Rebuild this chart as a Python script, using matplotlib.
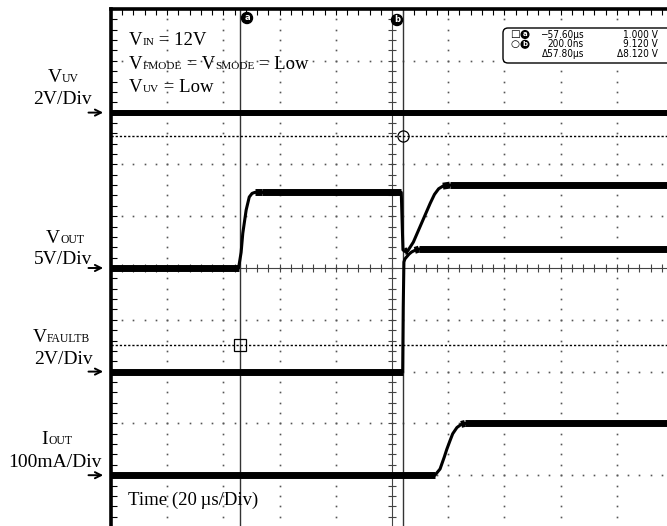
import numpy as np
import matplotlib
matplotlib.use('Agg')
import matplotlib.pyplot as plt
from matplotlib.offsetbox import TextArea, HPacker, AnnotationBbox
from matplotlib.patches import FancyBboxPatch

# time in us (0 = trigger point), values in channel units
t_vuv = [-104, 97]
vuv = [0, 0]                       # V

t_vout = [-104, -58.2, -57.3, -56.7, -55.5, -54.4, -53.4, -52.4, -50.0, -0.3, 0.0, 0.3,
          1.0, 2.0, 4.0, 6.0, 8.0, 10.0, 11.5, 13.0, 14.5, 17.0, 97]
vout = [0, 0, 1.5, 3.35, 5.6, 6.85, 7.2, 7.3, 7.3, 7.3, 4.5, 1.75,
        1.6, 1.65, 2.5, 3.75, 5.0, 6.25, 7.1, 7.65, 7.9, 8.0, 8.0]     # V

t_fault = [-104, 0.2, 0.4, 0.64, 1.0, 1.7, 2.5, 3.4, 4.5, 6.0, 97]
vfault = [0, 0, 2.5, 4.23, 4.35, 4.44, 4.54, 4.62, 4.68, 4.73, 4.73]  # V

t_iout = [-104, 11.7, 13.5, 15.0, 15.9, 17.0, 18.0, 19.5, 21.0, 22.4, 97]
iout = [0, 0, 12, 35, 50, 66, 80, 92, 98, 100, 100]                  # mA

# channel: (scale per div, ground position in div)
ch_vuv = (2, 3)
ch_vout = (5, 0)
ch_fault = (2, -2)
ch_iout = (100, -4)

t_center = -3.6        # us at screen centre
us_div = 20
cursor_t = [-57.6, 0.2]
cursor_lvl = [-1.49, 2.55]   # div

W, H = 667, 526
fig = plt.figure(figsize=(W / 100, H / 100), dpi=100)
ax = fig.add_axes([111 / W, -1 / H, 562 / W, 518 / H])
ax.set_xlim(t_center - 5 * us_div, t_center + 5 * us_div)
ax.set_ylim(-5, 5)
for s in ['right', 'bottom']:
    ax.spines[s].set_visible(False)
for s in ['top', 'left']:
    ax.spines[s].set_linewidth(2.6)

maj_x = t_center + us_div * np.arange(-5, 6)
min_x = t_center + us_div / 5 * np.arange(-25, 26)
maj_y = np.arange(-5, 6)
min_y = np.arange(-25, 26) / 5
ax.set_xticks(maj_x)
ax.set_xticks(min_x, minor=True)
ax.set_yticks(maj_y)
ax.set_yticks(min_y, minor=True)
ax.tick_params(which='both', direction='in', top=True, bottom=False, left=True, right=False,
               labelleft=False, labelbottom=False, length=4, width=0.8)

# dotted graticule
gx, gy = np.meshgrid(maj_x[1:-1][maj_x[1:-1] != t_center], min_y)
ax.plot(gx.ravel(), gy.ravel(), ls='none', marker='s', ms=1.2, mew=0, color='#555')
gx, gy = np.meshgrid(min_x, maj_y[1:-1][maj_y[1:-1] != 0])
ax.plot(gx.ravel(), gy.ravel(), ls='none', marker='s', ms=1.2, mew=0, color='#555')

# centre cross with ticks
ax.axvline(t_center, lw=0.8, color='#444')
ax.axhline(0, lw=0.8, color='#444')
ax.plot(min_x, np.zeros_like(min_x), ls='none', marker='|', ms=6, mew=0.8, color='#444')
ax.plot(np.full_like(min_y, t_center), min_y, ls='none', marker='_', ms=6, mew=0.8, color='#444')

# cursors
for ct in cursor_t:
    ax.axvline(ct, lw=1, color='#333')
for cl in cursor_lvl:
    ax.axhline(cl, lw=1, color='black', ls=(0, (1.6, 1.4)))
ax.plot(cursor_t[1], cursor_lvl[1], marker='o', ms=8, mfc='none', mec='black', mew=0.9)
ax.plot(cursor_t[0], cursor_lvl[0], marker='s', ms=8, mfc='none', mec='black', mew=0.9)


def trace(t, v, ch, lw_flat=5.0, lw_edge=2.2):
    t = np.asarray(t, float)
    d = ch[1] + np.asarray(v, float) / ch[0]
    ax.plot(t, d, color='black', lw=lw_edge, solid_joinstyle='round')
    slope = np.abs(np.diff(d) / np.diff(t))
    for i in np.flatnonzero(slope < 0.02):
        ax.plot(t[i:i + 2], d[i:i + 2], color='black', lw=lw_flat, solid_capstyle='butt')


trace(t_vuv, vuv, ch_vuv, lw_flat=4.3)
trace(t_vout, vout, ch_vout)
trace(t_fault, vfault, ch_fault)
trace(t_iout, iout, ch_iout)

# ground arrows
for ch in [ch_vuv, ch_vout, ch_fault, ch_iout]:
    ax.annotate('', xy=(-0.009, ch[1]), xycoords=('axes fraction', 'data'),
                xytext=(-0.045, ch[1]), textcoords=('axes fraction', 'data'),
                arrowprops=dict(arrowstyle='->', lw=1.4, color='black', mutation_scale=11),
                annotation_clip=False)

# overlay in pixel coordinates for text
ov = fig.add_axes([0, 0, 1, 1])
ov.set_xlim(0, W)
ov.set_ylim(H, 0)
ov.axis('off')

serif = ['Liberation Serif', 'DejaVu Serif']


def rich(x, y, parts, size, align=0.0, small=0.6):
    kids = []
    for txt, is_small in parts:
        kids.append(TextArea(txt, textprops=dict(fontsize=size * small if is_small else size,
                                                 family=serif, color='black')))
    box = HPacker(children=kids, align='baseline', pad=0, sep=0)
    ab = AnnotationBbox(box, (x, y), xycoords='data', box_alignment=(align, 0),
                        frameon=False, pad=0)
    ov.add_artist(ab)


# conditions
rich(129, 49, [('V', 0), ('IN', 1), (' = 12V', 0)], 13.5)
rich(129, 73, [('V', 0), ('FMODE', 1), (' = V', 0), ('SMODE', 1), (' = Low', 0)], 13.5)
rich(129, 96, [('V', 0), ('UV', 1), (' = Low', 0)], 13.5)

# channel labels
rich(63, 86, [('V', 0), ('UV', 1)], 14, align=0.5)
ov.text(62, 104, '2V/Div', fontsize=14, family=serif, ha='center', va='baseline')
rich(65, 247, [('V', 0), ('OUT', 1)], 14, align=0.5)
ov.text(63, 264, '5V/Div', fontsize=14, family=serif, ha='center', va='baseline')
rich(61, 346, [('V', 0), ('FAULTB', 1)], 14, align=0.5)
ov.text(63, 364, '2V/Div', fontsize=14, family=serif, ha='center', va='baseline')
rich(57, 448, [('I', 0), ('OUT', 1)], 14, align=0.5)
ov.text(55, 467, '100mA/Div', fontsize=14, family=serif, ha='center', va='baseline')

ov.text(128, 505, 'Time (20\u2009\u00b5s/Div)', fontsize=13.5, family=serif, va='baseline')


def circled(x, y, ch, size=6):
    ov.text(x, y, ch, fontsize=size, fontweight='bold', color='white', ha='center', va='center',
            family='DejaVu Sans',
            bbox=dict(boxstyle='circle,pad=0.12', fc='black', ec='black'))


circled(247, 18, 'a')
circled(397, 20, 'b')

# cursor readout
ov.add_patch(FancyBboxPatch((503, 28), 190, 35, boxstyle='round,pad=0,rounding_size=5',
                            fc='white', ec='black', lw=1, zorder=3))
narrow = ['Liberation Sans Narrow', 'DejaVu Sans']
rows = [('\u25a1', 'a', '\u221257.60\u00b5s', '1.000 V'),
        ('\u25cb', 'b', '200.0ns', '9.120 V'),
        (None, None, '\u039457.80\u00b5s', '\u03948.120 V')]
for i, (sym, c, tv, vv) in enumerate(rows):
    y = 34.5 + 9.8 * i
    if sym:
        ov.text(515, y, sym, fontsize=7.5, family='DejaVu Sans', ha='center', va='center', zorder=4)
        circled(525, y, c, size=5)
    ov.text(584, y, tv, fontsize=7.2, family=narrow, fontstretch='condensed', fontweight='medium',
            ha='right', va='center', zorder=4)
    ov.text(658, y, vv, fontsize=7.2, family=narrow, fontstretch='condensed', fontweight='medium',
            ha='right', va='center', zorder=4)

fig.savefig('out.png', dpi=100)
